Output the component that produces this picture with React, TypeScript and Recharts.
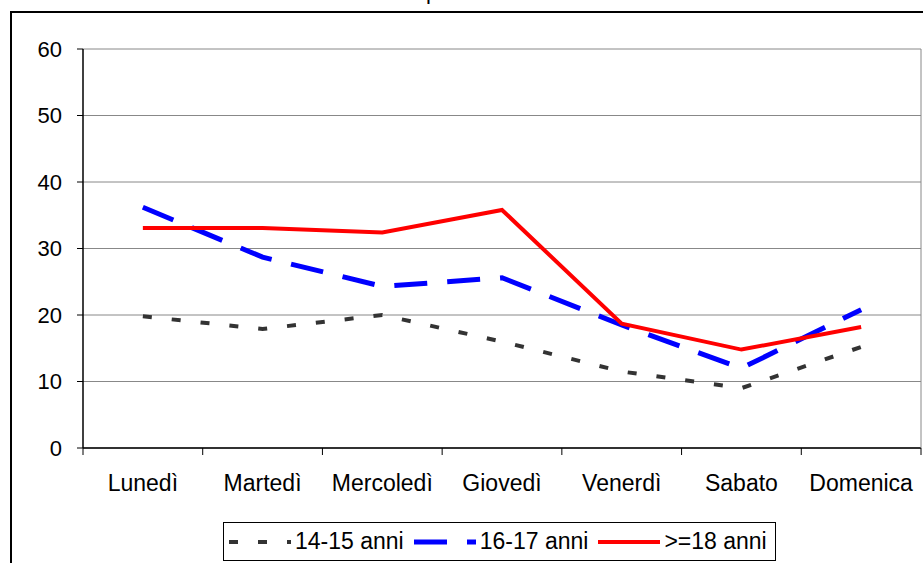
import { ComposedChart, Line, XAxis, YAxis, CartesianGrid, Legend } from "recharts"

const days = ["Lunedì", "Martedì", "Mercoledì", "Giovedì", "Venerdì", "Sabato", "Domenica"]
const anni1415 = [19.8, 17.9, 20.0, 16.0, 11.5, 9.0, 15.2]
const anni1617 = [36.2, 28.7, 24.3, 25.6, 18.5, 12.0, 20.8]
const anni18 = [33.1, 33.1, 32.4, 35.8, 18.7, 14.8, 18.2]
const yTicks = [0, 10, 20, 30, 40, 50, 60]

const data = days.map((day, i) => ({
  day,
  a: anni1415[i],
  b: anni1617[i],
  c: anni18[i],
}))

const font = '"Liberation Sans", Arial, sans-serif'
const tickFont = { fontSize: 22, fill: "#000", fontFamily: font }
const blackLine = { stroke: "#000" }
const blackAxis = { stroke: "#000", strokeWidth: 1.5 }
const grayAxis = { stroke: "#888" }
const yDomain = [0, 60]

// category label in the middle of the band, tick marks on the band edges
function DayTick(props: any) {
  const { x, y, payload, index, width, visibleTicksCount } = props
  const count = visibleTicksCount || days.length
  const band = width ? width / count : 839 / count
  const half = band / 2
  return (
    <g>
      <line x1={x - half} y1={y} x2={x - half} y2={y + 7} stroke="#000" />
      {index === count - 1 && <line x1={x + half} y1={y} x2={x + half} y2={y + 7} stroke="#000" />}
      <text x={x} y={y + 27} dy="0.71em" textAnchor="middle" fontSize={23} fontFamily={font} fill="#000">
        {payload.value}
      </text>
    </g>
  )
}

function LegendBox({ payload }: any) {
  return (
    <div
      style={{
        display: "inline-flex",
        alignItems: "center",
        boxSizing: "border-box",
        height: 39,
        border: "1px solid #000",
        background: "#fff",
        padding: "0 8px 0 5px",
        fontFamily: font,
        fontSize: 23,
        color: "#000",
      }}
    >
      {(payload || []).map((p: any, i: number) => (
        <div key={p.value} style={{ display: "flex", alignItems: "center", marginLeft: i === 0 ? 0 : 10 }}>
          <svg width={62} height={10}>
            <line
              x1={0}
              y1={5}
              x2={62}
              y2={5}
              stroke={p.color}
              strokeWidth={p.payload?.strokeWidth ?? 4}
              strokeDasharray={p.payload?.strokeDasharray}
            />
          </svg>
          <span style={{ marginLeft: 4 }}>{p.value}</span>
        </div>
      ))}
    </div>
  )
}

export default function App() {
  return (
    <div style={{ position: "absolute", left: 0, top: 0, width: 923, height: 563, overflow: "hidden", background: "#fff" }}>
      <div
        style={{
          position: "absolute",
          left: 10,
          top: 11,
          width: 940,
          height: 600,
          borderLeft: "2px solid #000",
          borderTop: "2px solid #000",
        }}
      />
      <div style={{ position: "absolute", left: 426, top: -21, fontFamily: font, fontSize: 22, lineHeight: "25px" }}>p</div>
      <div style={{ position: "absolute", left: 0, top: 0 }}>
        <ComposedChart width={923} height={563} data={data} margin={{ top: 49, right: 1, left: 0, bottom: 2 }}>
          <CartesianGrid vertical={false} stroke="#888" xAxisId="cat" yAxisId="left" />
          <XAxis
            xAxisId="cat"
            dataKey="day"
            scale="band"
            height={74}
            axisLine={blackAxis}
            tickLine={false}
            tickSize={0}
            tickMargin={0}
            interval={0}
            tick={<DayTick />}
          />
          <YAxis
            yAxisId="left"
            width={83}
            domain={yDomain}
            ticks={yTicks}
            tickSize={6}
            tickMargin={15}
            tickLine={blackLine}
            axisLine={blackAxis}
            tick={tickFont}
          />
          <YAxis
            yAxisId="right"
            orientation="right"
            width={1}
            domain={yDomain}
            tick={false}
            tickLine={false}
            axisLine={grayAxis}
          />
          <Line
            xAxisId="cat"
            yAxisId="left"
            type="linear"
            dataKey="a"
            name="14-15 anni"
            stroke="#333333"
            strokeWidth={4}
            strokeDasharray="9 20"
            dot={false}
            isAnimationActive={false}
          />
          <Line
            xAxisId="cat"
            yAxisId="left"
            type="linear"
            dataKey="b"
            name="16-17 anni"
            stroke="#0000ff"
            strokeWidth={5}
            strokeDasharray="33 20"
            dot={false}
            isAnimationActive={false}
          />
          <Line
            xAxisId="cat"
            yAxisId="left"
            type="linear"
            dataKey="c"
            name=">=18 anni"
            stroke="#ff0000"
            strokeWidth={4}
            dot={false}
            isAnimationActive={false}
          />
          <Legend verticalAlign="bottom" content={<LegendBox />} wrapperStyle={{ left: 223, width: 600 }} />
        </ComposedChart>
      </div>
    </div>
  )
}
